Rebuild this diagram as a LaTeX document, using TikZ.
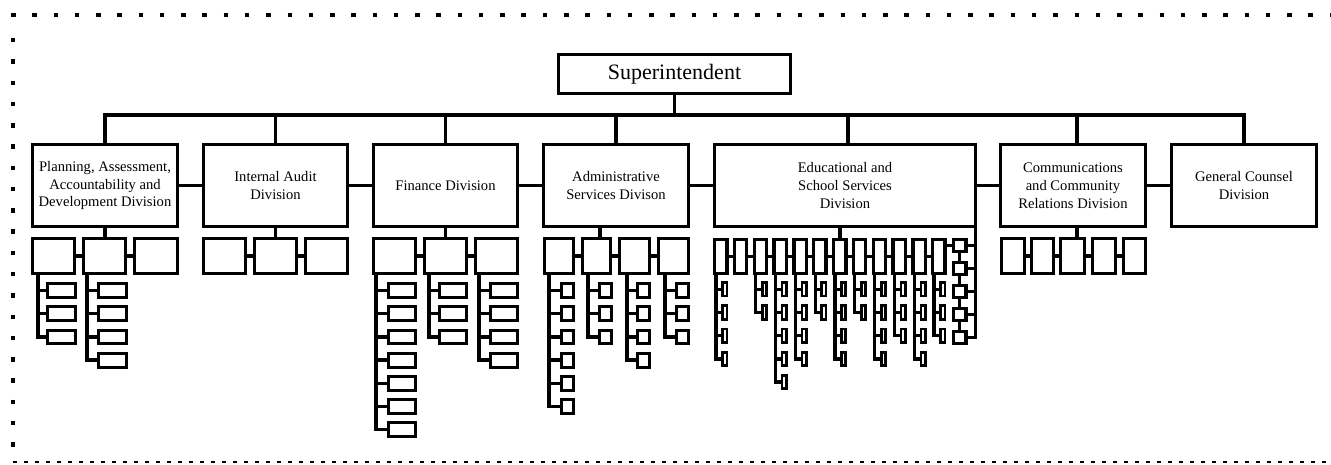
\documentclass[tikz,border=0pt]{standalone}
\usepackage{fontspec}
\setmainfont{Liberation Serif}
\newcommand\bx[7][]{\node[#2, anchor=north west, minimum width={((#6)-(#4)-3.2)*1pt}, minimum height={((#7)-(#5)-3.2)*1pt}] (#3) at ({(#4)+1.6},{(#5)+1.6}) {#1};}
\newcommand\itemcol[9]{%
 \path ({#3},0) coordinate (#1x);
 \coordinate (#1v) at (#2.south -| #1x);
 \foreach \k in {1,...,#6}{%
  \bx{#8}{#1-\k}{#4}{(#7)+23.2*(\k-1)}{#5}{(#7)+23.2*(\k-1)+(#9)}%
 }
 \draw[sublink] (#1v) |- (#1-#6.west);
 \foreach \k in {1,...,#6}{\draw[sublink] (#1v |- #1-\k.west) -- (#1-\k.west);}
}
\begin{document}
\begin{tikzpicture}[x=1pt,y=-1pt,
 divbox/.style={draw, line width=3.6pt, inner sep=0pt, outer sep=0pt, align=center, font=\fontsize{14.6}{17.8}\selectfont},
 supbox/.style={divbox, font=\fontsize{22}{26}\selectfont},
 subbox/.style={draw, line width=3.3pt, inner sep=0pt, outer sep=0pt},
 itembox/.style={draw, line width=3pt, inner sep=0pt, outer sep=0pt},
 tinybox/.style={draw, line width=2.8pt, inner sep=0pt, outer sep=0pt},
 link/.style={line width=3.8pt},
 sublink/.style={line width=3.3pt},
 dotline/.style={line width=4.5pt, dash pattern=on 4.5pt off 16.77pt},
 dashline/.style={line width=2.5pt, dash pattern=on 4pt off 7pt}
]
\useasboundingbox (0,0) rectangle (1331,465);
% frame
\draw[dotline] (11,15) -- (1331,15);
\draw[dotline] (13,38) -- (13,452);
\draw[dashline] (13,462) -- (1331,462);
% top
\bx[Superintendent]{supbox}{sup}{557}{53}{792}{95}
\bx[Planning, Assessment,\\Accountability and\\Development Division]{divbox}{plan}{31}{143}{179}{228}
\bx[Internal Audit\\Division]{divbox}{ia}{202}{143}{349}{228}
\bx[Finance Division]{divbox}{fin}{372}{143}{519}{228}
\bx[Administrative\\Services Divison]{divbox}{adm}{542}{143}{690}{228}
\bx[Educational and\\School Services\\Division]{divbox}{edu}{713}{143}{977}{228}
\bx[Communications\\and Community\\Relations Division]{divbox}{com}{999}{143}{1147}{228}
\bx[General Counsel\\Division]{divbox}{gc}{1170}{143}{1318}{228}
\path (105,115) coordinate (busL) (848,0) coordinate (edux) (1077,0) coordinate (comx) (600,0) coordinate (admx);
\draw[link] (sup.south) -- (sup.south |- busL);
\draw[link] (plan.north) |- (sup.south |- busL) -| (gc.north);
\foreach \d in {ia,fin,adm} \draw[link] (\d.north) -- (\d.north |- busL);
\draw[link] (edu.north -| edux) -- (busL -| edux);
\draw[link] (com.north -| comx) -- (busL -| comx);
\foreach \a/\b in {plan/ia,ia/fin,fin/adm,adm/edu,edu/com,com/gc} \draw[link] (\a.east) -- (\b.west);
% planning
\bx{subbox}{pa}{31}{237}{76}{275}
\bx{subbox}{pb}{82}{237}{127}{275}
\bx{subbox}{pc}{133}{237}{179}{275}
\draw[sublink] (pa.east) -- (pb.west) (pb.east) -- (pc.west);
\draw[link] (plan.south) -- (plan.south |- pb.north);
\itemcol{pai}{pa}{38}{46}{77}{3}{282}{itembox}{17}
\itemcol{pbi}{pb}{87}{97}{128}{4}{282}{itembox}{17}
% internal audit
\bx{subbox}{ia1}{202}{237}{247}{275}
\bx{subbox}{ia2}{253}{237}{298}{275}
\bx{subbox}{ia3}{304}{237}{349}{275}
\draw[sublink] (ia1.east) -- (ia2.west) (ia2.east) -- (ia3.west);
\draw[link] (ia.south) -- (ia.south |- ia2.north);
% finance
\bx{subbox}{fa}{372}{237}{417}{275}
\bx{subbox}{fb}{423}{237}{468}{275}
\bx{subbox}{fc}{474}{237}{519}{275}
\draw[sublink] (fa.east) -- (fb.west) (fb.east) -- (fc.west);
\draw[link] (fin.south) -- (fin.south |- fb.north);
\itemcol{fai}{fa}{376}{387}{417}{7}{282}{itembox}{17}
\itemcol{fbi}{fb}{429}{438}{468}{3}{282}{itembox}{17}
\itemcol{fci}{fc}{479}{489}{519}{4}{282}{itembox}{17}
% administrative
\bx{subbox}{aa}{543}{237}{575}{275}
\bx{subbox}{ab}{581}{237}{612}{275}
\bx{subbox}{ac}{618}{237}{651}{275}
\bx{subbox}{ad}{657}{237}{690}{275}
\draw[sublink] (aa.east) -- (ab.west) (ab.east) -- (ac.west) (ac.east) -- (ad.west);
\draw[link] (adm.south -| admx) -- (ab.north -| admx);
\itemcol{aai}{aa}{549}{560}{575}{6}{282}{itembox}{17}
\itemcol{abi}{ab}{588}{598}{613}{3}{282}{itembox}{17}
\itemcol{aci}{ac}{627}{636}{651}{4}{282}{itembox}{17}
\itemcol{adi}{ad}{665}{675}{690}{3}{282}{itembox}{17}
% educational
\foreach \i/\n in {1/4,2/0,3/2,4/5,5/4,6/2,7/4,8/2,9/4,10/3,11/4,12/3}{%
 \pgfmathsetmacro\L{713+19.83*(\i-1)}
 \bx{subbox}{e\i}{\L}{238}{\L+15.5}{275}
 \ifnum\n>0 \itemcol{e\i i}{e\i}{\L+3}{\L+8}{\L+15.5}{\n}{281}{tinybox}{16.5}\fi
}
\foreach \i [count=\j from 2] in {1,...,11} \draw[sublink] (e\i.east) -- (e\j.west);
\draw[link] (edu.south -| e7.north) -- (e7.north);
\foreach \k in {1,...,5} {\bx{subbox}{s\k}{952}{238+23*(\k-1)}{967.5}{253+23*(\k-1)}}
\draw[sublink] (s1.west -| e12.east) -- (s1.west);
\foreach \k [count=\j from 2] in {1,...,4} \draw[sublink] (s\k.south) -- (s\j.north);
\draw[link] (edu.south east) |- (s5.east);
\foreach \k in {1,...,4} \draw[sublink] (edu.south east |- s\k.east) -- (s\k.east);
% communications
\bx{subbox}{c1}{1000}{237}{1026}{275}
\bx{subbox}{c2}{1030}{237}{1055}{275}
\bx{subbox}{c3}{1059}{237}{1086}{275}
\bx{subbox}{c4}{1091}{237}{1117}{275}
\bx{subbox}{c5}{1122}{237}{1147}{275}
\draw[sublink] (c1.east) -- (c2.west) (c2.east) -- (c3.west) (c3.east) -- (c4.west) (c4.east) -- (c5.west);
\draw[link] (com.south -| comx) -- (c3.north -| comx);
\end{tikzpicture}
\end{document}
